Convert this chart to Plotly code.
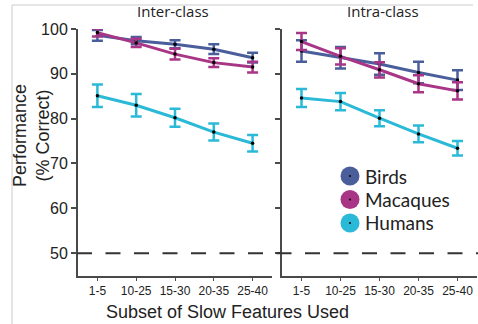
import plotly.graph_objects as go

# ---- data ----
categories = ["1-5", "10-25", "15-30", "20-35", "25-40"]

inter_birds = [98.6, 97.4, 96.6, 95.5, 93.6]
inter_birds_err = [1.2, 0.8, 0.9, 1.1, 1.1]
inter_macaques = [99.2, 96.9, 94.4, 92.5, 91.5]
inter_macaques_err = [0.9, 0.9, 1.2, 1.0, 1.2]
inter_humans = [85.1, 83.0, 80.2, 77.0, 74.5]
inter_humans_err = [2.5, 2.5, 2.0, 1.9, 1.85]

intra_birds = [95.1, 93.6, 92.2, 90.3, 88.6]
intra_birds_err = [2.4, 2.4, 2.4, 2.4, 2.2]
intra_macaques = [97.2, 93.9, 90.9, 87.8, 86.2]
intra_macaques_err = [1.9, 1.8, 1.7, 1.9, 1.9]
intra_humans = [84.6, 83.8, 80.1, 76.6, 73.4]
intra_humans_err = [2.0, 1.9, 1.8, 1.85, 1.6]

species = ["Birds", "Macaques", "Humans"]
colors = {"Birds": "#4b5e9c", "Macaques": "#a83585", "Humans": "#2bb9d8"}
y_ticks = [50, 60, 70, 80, 90, 100]
chance_level = 50

W, H = 478, 324


def px(x):
    return x / W


def py(y):
    return 1 - y / H


AXIS_COL = "#4a4a4a"
TEXT_COL = "#222222"
ARIAL = "Liberation Sans, Arial, sans-serif"
HUMANIST = "Open Sans, Noto Sans, sans-serif"
LEGEND_FONT = "Lato, Open Sans, sans-serif"

fig = go.Figure()

panels = [
    ("x", "y", {"Birds": (inter_birds, inter_birds_err),
                "Macaques": (inter_macaques, inter_macaques_err),
                "Humans": (inter_humans, inter_humans_err)}),
    ("x2", "y2", {"Birds": (intra_birds, intra_birds_err),
                  "Macaques": (intra_macaques, intra_macaques_err),
                  "Humans": (intra_humans, intra_humans_err)}),
]

for xa, ya, series in panels:
    for name in species:
        vals, errs = series[name]
        fig.add_trace(go.Scatter(
            x=categories, y=vals, xaxis=xa, yaxis=ya,
            mode="lines+markers", name=name, showlegend=False,
            line=dict(color=colors[name], width=3),
            marker=dict(color="black", size=3.5),
            error_y=dict(type="data", array=errs, visible=True,
                         color=colors[name], thickness=2.5, width=5.5),
            cliponaxis=False,
        ))

yrange = [44.9, 100.0]
common_x = dict(type="category", range=[-0.5, 4.5], showline=True,
                linecolor=AXIS_COL, linewidth=2, ticks="outside", ticklen=3,
                tickwidth=1, tickcolor=AXIS_COL, showgrid=False, zeroline=False,
                tickfont=dict(family=ARIAL, size=12, color=TEXT_COL),
                automargin=False, fixedrange=True)
common_y = dict(range=yrange, showline=True, linecolor=AXIS_COL, linewidth=2,
                ticks="outside", ticklen=5, tickwidth=1.5, tickcolor=AXIS_COL,
                tickvals=y_ticks, showgrid=False, zeroline=False,
                tickfont=dict(family=ARIAL, size=16, color=TEXT_COL),
                automargin=False, fixedrange=True)

y_dom = [py(276), py(29)]
fig.update_layout(
    width=W, height=H,
    margin=dict(l=0, r=0, t=0, b=0, pad=0),
    paper_bgcolor="white", plot_bgcolor="white",
    xaxis=dict(domain=[px(78), px(272)], anchor="y", **common_x),
    yaxis=dict(domain=y_dom, anchor="x", **common_y),
    xaxis2=dict(domain=[px(282), px(477)], anchor="y2", **common_x),
    yaxis2=dict(domain=y_dom, anchor="x2", showticklabels=False, **common_y),
)

shapes = []
# chance-level dashed line spanning both panels
shapes.append(dict(type="line", xref="paper", yref="y", x0=px(77), x1=1.0,
                   y0=chance_level, y1=chance_level,
                   line=dict(color="#333333", width=2, dash="15px,13.5px")))
# thin frame lines along the left and top
shapes.append(dict(type="line", xref="paper", yref="paper", x0=px(12), x1=px(12),
                   y0=py(5), y1=0, line=dict(color="#cccccc", width=1)))
shapes.append(dict(type="line", xref="paper", yref="paper", x0=px(12), x1=px(473),
                   y0=py(5), y1=py(5), line=dict(color="#cccccc", width=1)))

annotations = []
# legend: coloured discs with a black centre dot
legend_y = [176.0, 199.5, 223.0]
for name, ly in zip(species, legend_y):
    r = 9.5
    shapes.append(dict(type="circle", xref="paper", yref="paper",
                       x0=px(350 - r), x1=px(350 + r), y0=py(ly + r), y1=py(ly - r),
                       fillcolor=colors[name], line=dict(width=0)))
    shapes.append(dict(type="circle", xref="paper", yref="paper",
                       x0=px(349), x1=px(351), y0=py(ly + 1), y1=py(ly - 1),
                       fillcolor="black", line=dict(width=0)))
    annotations.append(dict(text=name, xref="paper", yref="paper",
                            x=px(364), y=py(ly), xanchor="left", yanchor="middle",
                            borderpad=0, showarrow=False,
                            font=dict(family=LEGEND_FONT, size=19, color=TEXT_COL)))

# panel titles
annotations.append(dict(text="Inter-class", xref="paper", yref="paper",
                        x=px(173), y=py(10.5), xanchor="center", yanchor="middle",
                        showarrow=False,
                        font=dict(family=HUMANIST, size=15, color=TEXT_COL)))
annotations.append(dict(text="Intra-class", xref="paper", yref="paper",
                        x=px(383), y=py(10.5), xanchor="center", yanchor="middle",
                        showarrow=False,
                        font=dict(family=HUMANIST, size=15, color=TEXT_COL)))

# axis titles
annotations.append(dict(text="Subset of Slow Features Used", xref="paper", yref="paper",
                        x=px(227.5), y=py(312), xanchor="center", yanchor="middle",
                        showarrow=False,
                        font=dict(family=ARIAL, size=18, color=TEXT_COL)))
annotations.append(dict(text="Performance<br>(% Correct)", xref="paper", yref="paper",
                        x=px(31), y=py(136), xanchor="center", yanchor="middle",
                        textangle=-90, showarrow=False,
                        font=dict(family=ARIAL, size=18, color=TEXT_COL)))

fig.update_layout(shapes=shapes, annotations=annotations)

fig.write_html("out.html")
